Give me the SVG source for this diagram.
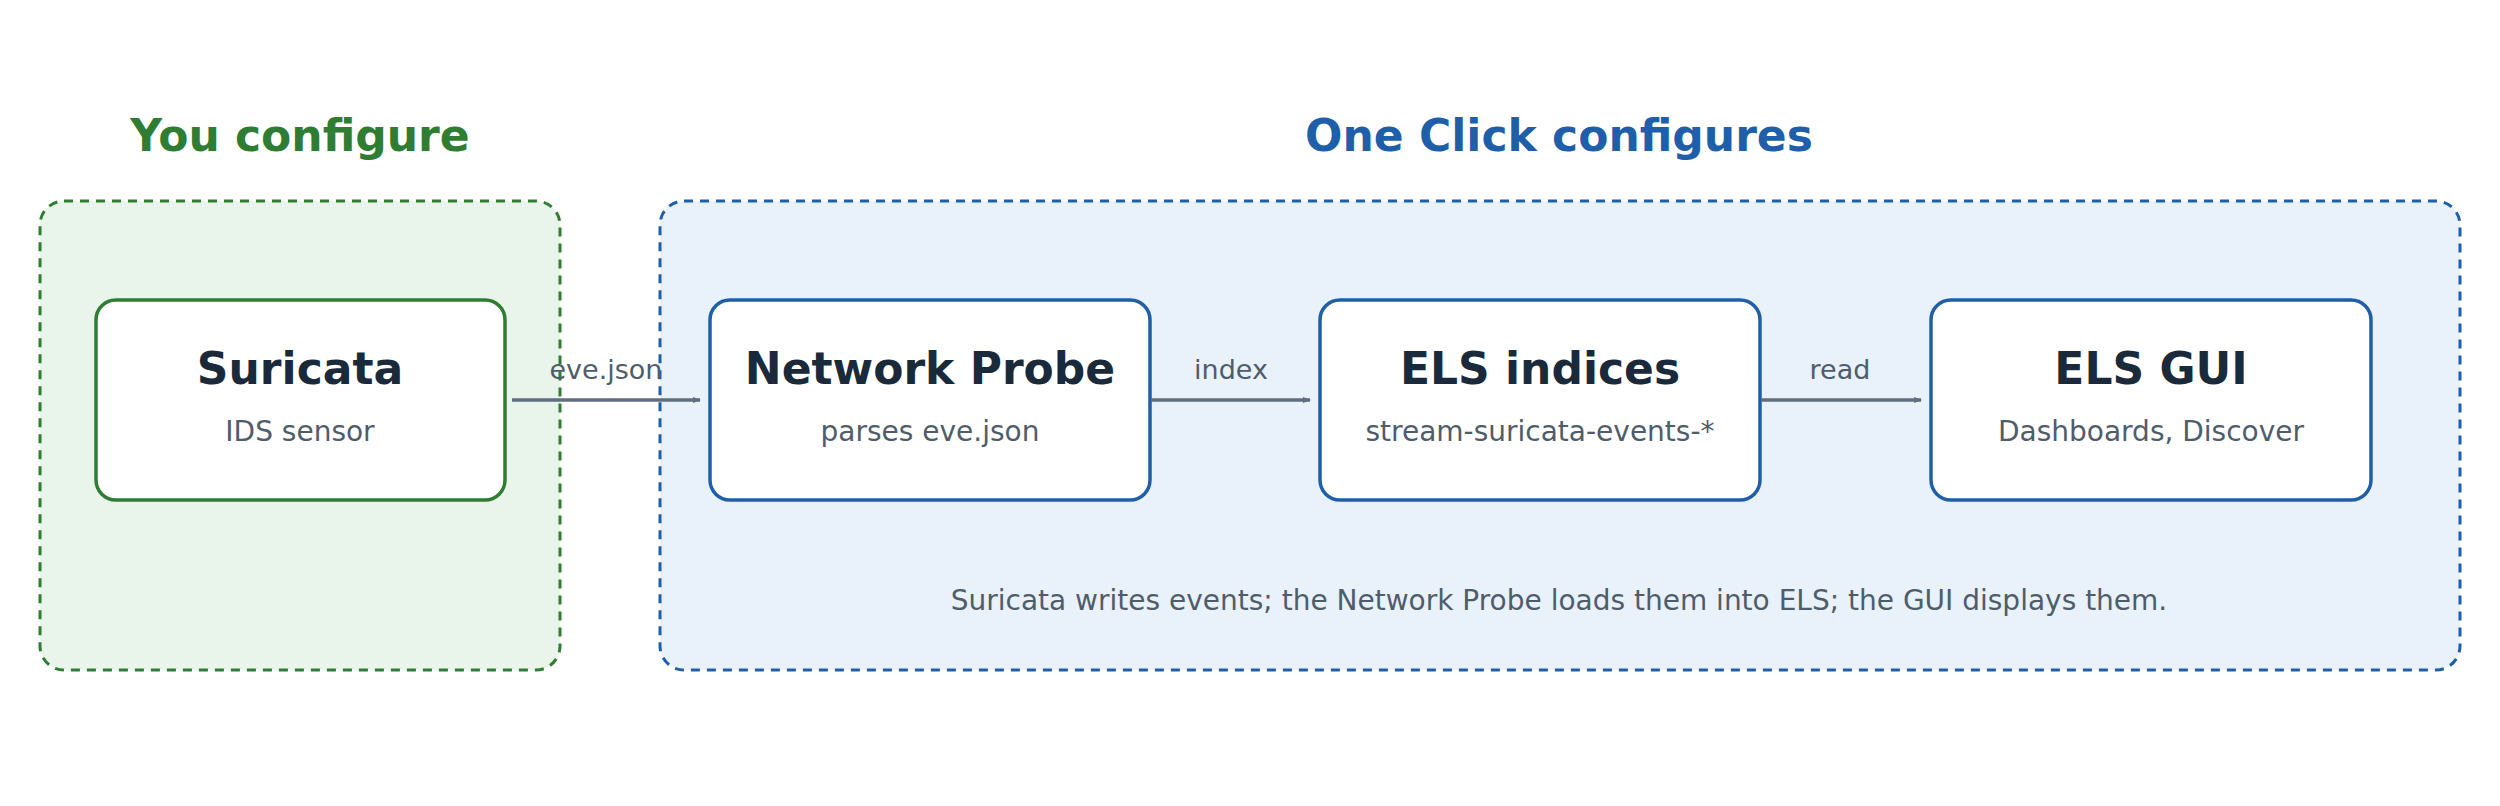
<svg xmlns="http://www.w3.org/2000/svg" width="2500" height="806" viewBox="0 0 2500 806">
<style>
text{font-family:"DejaVu Sans",sans-serif;text-anchor:middle}
.h{font-size:44px;font-weight:bold}
.t{font-size:44px;font-weight:bold;fill:#1b2a3a}
.s{font-size:28px;fill:#4f5d6b}
.l{font-size:27px;fill:#4f5d6b}
.node{fill:#fff;stroke-width:3.5}
.e{stroke:#5f6e80;stroke-width:3.5;fill:none;marker-end:url(#a)}
</style>
<defs><marker id="a" markerWidth="8" markerHeight="6" refX="7" refY="3" orient="auto" markerUnits="userSpaceOnUse"><path d="M0,0L8,3L0,6z" fill="#5f6e80"/></marker></defs>
<rect width="2500" height="806" fill="#fff"/>
<g id="group-you">
<rect x="40" y="201" width="520" height="469" rx="24" fill="#e9f4ea" stroke="#2e7d32" stroke-width="3" stroke-dasharray="9,7"/>
<text class="h" x="300" y="151" fill="#2e7d32">You configure</text>
</g>
<g id="group-oneclick">
<rect x="660" y="201" width="1800" height="469" rx="24" fill="#e9f1fa" stroke="#1f5fa9" stroke-width="3" stroke-dasharray="9,7"/>
<text class="h" x="1559" y="151" fill="#1f5fa9">One Click configures</text>
<text class="s" x="1559" y="610">Suricata writes events; the Network Probe loads them into ELS; the GUI displays them.</text>
</g>
<g id="suricata"><rect class="node" x="96" y="300" width="409" height="200" rx="20" stroke="#2e7d32"/><text class="t" x="300" y="384">Suricata</text><text class="s" x="300" y="441">IDS sensor</text></g>
<g id="probe"><rect class="node" x="710" y="300" width="440" height="200" rx="20" stroke="#1f5fa9"/><text class="t" x="930" y="384">Network Probe</text><text class="s" x="930" y="441">parses eve.json</text></g>
<g id="indices"><rect class="node" x="1320" y="300" width="440" height="200" rx="20" stroke="#1f5fa9"/><text class="t" x="1540" y="384">ELS indices</text><text class="s" x="1540" y="441">stream-suricata-events-*</text></g>
<g id="gui"><rect class="node" x="1931" y="300" width="440" height="200" rx="20" stroke="#1f5fa9"/><text class="t" x="2151" y="384">ELS GUI</text><text class="s" x="2151" y="441">Dashboards, Discover</text></g>
<g id="connectors">
<path class="e" d="M512,400H700"/><text class="l" x="606" y="379">eve.json</text>
<path class="e" d="M1151,400H1310"/><text class="l" x="1231" y="379">index</text>
<path class="e" d="M1761,400H1921"/><text class="l" x="1840" y="379">read</text>
</g>
</svg>
